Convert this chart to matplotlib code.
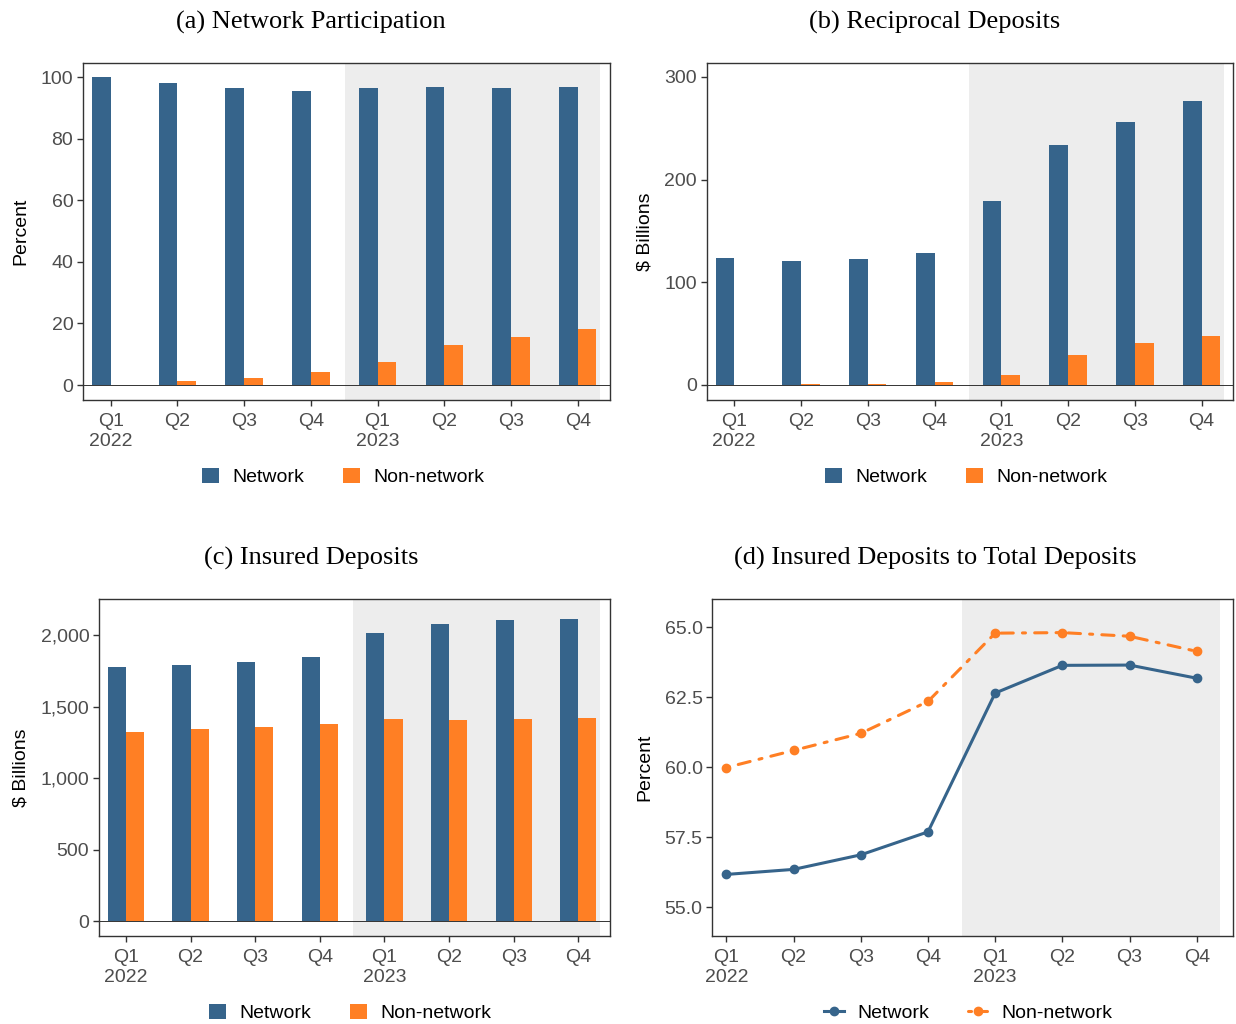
import matplotlib
matplotlib.use("Agg")
import matplotlib.pyplot as plt
from matplotlib.patches import Patch
from matplotlib.lines import Line2D
from matplotlib.ticker import FuncFormatter
import numpy as np

# Quarter labels (Q1 2022 .. Q4 2023)
quarters = ["Q1\n2022", "Q2", "Q3", "Q4", "Q1\n2023", "Q2", "Q3", "Q4"]

# (a) Network participation, percent
part_network = [100.0, 98.3, 96.5, 95.7, 96.5, 96.9, 96.4, 96.9]
part_nonnet = [0.0, 1.2, 2.4, 4.1, 7.4, 13.0, 15.6, 18.2]

# (b) Reciprocal deposits, $ billions
recip_network = [123.2, 120.3, 122.9, 128.4, 179.0, 233.2, 255.6, 276.7]
recip_nonnet = [0.0, 0.6, 1.0, 2.9, 9.4, 28.9, 40.5, 47.7]

# (c) Insured deposits, $ billions
ins_network = [1776, 1790, 1814, 1844, 2016, 2077, 2107, 2114]
ins_nonnet = [1325, 1341, 1360, 1376, 1411, 1404, 1416, 1420]

# (d) Insured deposits to total deposits, percent
ratio_network = [56.17, 56.35, 56.87, 57.69, 62.65, 63.64, 63.65, 63.18]
ratio_nonnet = [59.99, 60.60, 61.21, 62.35, 64.79, 64.81, 64.68, 64.14]

series_names = ["Network", "Non-network"]

NAVY = "#36648B"
ORANGE = "#FF7F24"
SHADE = "#EDEDED"
DARK = "#333333"
TICKC = "#4D4D4D"

W, H = 1236, 1024
plt.rcParams["font.family"] = ["Liberation Sans", "DejaVu Sans"]

fig = plt.figure(figsize=(W / 100, H / 100), dpi=100)


def make_axes(left, top, right, bottom):
    return fig.add_axes([left / W, 1 - bottom / H, (right - left) / W, (bottom - top) / H])


def style(ax, ylabel, xlim, ylim, yticks, yfmt=None):
    x = np.arange(len(quarters))
    ax.set_xlim(*xlim)
    ax.set_ylim(*ylim)
    ax.axvspan(3.51, 7.34, color=SHADE, zorder=0, lw=0)
    ax.set_xticks(x)
    ax.set_xticklabels(quarters, linespacing=1.3)
    ax.set_yticks(yticks)
    if yfmt is not None:
        ax.yaxis.set_major_formatter(FuncFormatter(yfmt))
    ax.tick_params(axis="both", length=4, width=1.0, color=DARK,
                   labelsize=14, labelcolor=TICKC, pad=3)
    ax.tick_params(axis="x", pad=5)
    for s in ax.spines.values():
        s.set_color(DARK)
        s.set_linewidth(1.0)
    ax.set_ylabel(ylabel, fontsize=14, color="black", labelpad=8)


def bar_panel(ax, net, non):
    x = np.arange(len(quarters))
    w = 0.28
    ax.bar(x - w / 2, net, width=w, color=NAVY, lw=0, zorder=2)
    ax.bar(x + w / 2, non, width=w, color=ORANGE, lw=0, zorder=2)
    ax.axhline(0, color=DARK, lw=0.7, zorder=3)


def title(text, cx, cy):
    fig.text(cx / W, 1 - cy / H, text, ha="center", va="center",
             fontsize=19, family=["Liberation Serif", "DejaVu Serif"])


def bar_legend(ax, cx, cy):
    handles = [Patch(facecolor=NAVY, edgecolor="none"),
               Patch(facecolor=ORANGE, edgecolor="none")]
    ax.legend(handles, series_names, loc="center", ncol=2, frameon=False,
              bbox_to_anchor=(cx / W, 1 - cy / H), bbox_transform=fig.transFigure,
              fontsize=14, handlelength=0.87, handleheight=0.87,
              handletextpad=0.7, columnspacing=2.0)


# (a)
ax_a = make_axes(83, 62.7, 610, 400)
bar_panel(ax_a, part_network, part_nonnet)
style(ax_a, "Percent", (-0.415, 7.484), (-4.87, 104.76), [0, 20, 40, 60, 80, 100])
title("(a) Network Participation", 311, 22)
bar_legend(ax_a, 343, 477)

# (b)
ax_b = make_axes(706.7, 62.7, 1233, 400)
bar_panel(ax_b, recip_network, recip_nonnet)
style(ax_b, "$ Billions", (-0.412, 7.469), (-14.6, 313.7), [0, 100, 200, 300])
title("(b) Reciprocal Deposits", 935, 22)
bar_legend(ax_b, 966, 477)

# (c)
ax_c = make_axes(99, 599.3, 610, 936)
bar_panel(ax_c, ins_network, ins_nonnet)
style(ax_c, "$ Billions", (-0.416, 7.49), (-102, 2249), [0, 500, 1000, 1500, 2000],
      yfmt=lambda v, p: f"{v:,.0f}")
title("(c) Insured Deposits", 311, 558)
bar_legend(ax_c, 350, 1013)

# (d)
ax_d = make_axes(712.3, 599.3, 1233, 936)
xd = np.arange(len(quarters))
ax_d.plot(xd, ratio_network, color=NAVY, lw=2.2, marker="o", ms=6,
          solid_capstyle="round", zorder=3)
ax_d.plot(xd, ratio_nonnet, color=ORANGE, lw=2.2, marker="o", ms=6,
          linestyle=(0, (1, 3, 4, 3)), dash_capstyle="round", zorder=3)
style(ax_d, "Percent", (-0.21, 7.54), (53.97, 66.0), [55.0, 57.5, 60.0, 62.5, 65.0],
      yfmt=lambda v, p: f"{v:.1f}")
title("(d) Insured Deposits to Total Deposits", 935, 558)
line_handles = [
    Line2D([], [], color=NAVY, lw=2.2, marker="o", ms=6),
    Line2D([], [], color=ORANGE, lw=2.2, marker="o", ms=6,
           linestyle=(0, (1, 3, 4, 3)), dash_capstyle="round"),
]
ax_d.legend(line_handles, series_names, loc="center", ncol=2, frameon=False,
            bbox_to_anchor=(968 / W, 1 - 1013 / H), bbox_transform=fig.transFigure,
            fontsize=14, handlelength=1.0, handletextpad=0.7, columnspacing=2.0)

fig.savefig("out.png", dpi=100, facecolor="white")
